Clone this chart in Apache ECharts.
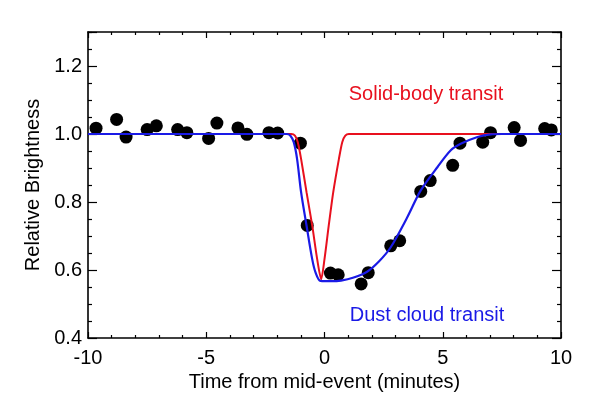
<!DOCTYPE html>
<html>
<head>
<meta charset="utf-8">
<script src="https://cdn.jsdelivr.net/npm/echarts@6/dist/echarts.min.js"></script>
<style>
  html, body { margin: 0; padding: 0; background: #fff; }
  #chart { width: 590px; height: 398px; }
</style>
</head>
<body>
<div id="chart"></div>
<script>
// observed photometry (minutes from mid-event, relative brightness)
const obsTime = [-9.66, -8.79, -8.39, -7.50, -7.11, -6.21, -5.82, -4.90, -4.55, -3.66,
  -3.28, -2.35, -1.98, -1.02, -0.73, 0.25, 0.58, 1.55, 1.85, 2.80,
  3.18, 4.07, 4.47, 5.42, 5.73, 6.69, 7.02, 8.02, 8.29, 9.31, 9.59];
const obsFlux = [1.017, 1.043, 0.991, 1.013, 1.024, 1.013, 1.004, 0.987, 1.032, 1.018,
  0.999, 1.004, 1.003, 0.973, 0.731, 0.591, 0.586, 0.559, 0.592, 0.671,
  0.686, 0.831, 0.863, 0.908, 0.973, 0.976, 1.004, 1.019, 0.981, 1.016, 1.012];

// solid-body model curve
const solidTime = [-10, -1.40, -1.25, -1.13, -0.99, -0.76, -0.52, -0.31, -0.14,
  0.0, 0.18, 0.37, 0.61, 0.75, 0.88, 1.03, 10];
const solidFlux = [1.0, 1.0, 0.995, 0.976, 0.927, 0.829, 0.731, 0.632, 0.573,
  0.632, 0.731, 0.829, 0.927, 0.976, 0.995, 1.0, 1.0];

// dust cloud model curve
const dustTime = [-10, -1.60, -1.44, -1.30, -1.16, -0.99, -0.76, -0.52, -0.38, -0.17,
  0.3, 0.7, 1.2, 1.8, 2.3, 2.8, 3.5, 4.07, 4.78, 5.34, 5.76, 6.47, 7.03, 7.5, 10];
const dustFlux = [1.0, 1.0, 0.995, 0.976, 0.927, 0.829, 0.731, 0.632, 0.593, 0.568,
  0.567, 0.569, 0.577, 0.595, 0.625, 0.667, 0.755, 0.834, 0.903, 0.952, 0.971, 0.991, 0.999, 1.0, 1.0];

const xTicks = [-10, -5, 0, 5, 10];
const yTicks = [0.4, 0.6, 0.8, 1.0, 1.2];

const zip = (a, b) => a.map((v, i) => [v, b[i]]);

const FONT = "'Liberation Sans', Arial, sans-serif";
const chart = echarts.init(document.getElementById('chart'), null, { renderer: 'canvas' });

const axisLine = { show: true, onZero: false, lineStyle: { color: '#000', width: 1.6 } };

function xAx(pos, labels) {
  return {
    type: 'value', position: pos, min: -10, max: 10, interval: 5,
    axisLine, splitLine: { show: false },
    axisTick: { show: true, inside: true, length: 6, lineStyle: { color: '#000', width: 1.2 } },
    minorTick: { show: true, splitNumber: 5, length: 3, lineStyle: { color: '#000', width: 1.2 } },
    axisLabel: {
      show: labels, margin: 10, color: '#000', fontSize: 20, fontFamily: FONT,
      formatter: v => xTicks.includes(v) ? String(v) : ''
    },
    name: labels ? 'Time from mid-event (minutes)' : '',
    nameLocation: 'middle', nameGap: 31,
    nameTextStyle: { color: '#000', fontSize: 20, fontFamily: FONT }
  };
}

function yAx(pos, labels) {
  return {
    type: 'value', position: pos, min: 0.4, max: 1.3, interval: 0.2,
    axisLine, splitLine: { show: false },
    axisTick: { show: true, inside: true, length: 9, lineStyle: { color: '#000', width: 1.2 } },
    minorTick: { show: true, splitNumber: 4, length: 4, lineStyle: { color: '#000', width: 1.2 } },
    axisLabel: {
      show: labels, margin: 6, color: '#000', fontSize: 20, fontFamily: FONT,
      showMaxLabel: false,
      formatter: v => yTicks.some(t => Math.abs(t - v) < 1e-6) ? v.toFixed(1) : ''
    },
    name: labels ? 'Relative Brightness' : '',
    nameLocation: 'middle', nameGap: 44, nameRotate: 90,
    nameTextStyle: { color: '#000', fontSize: 20, fontFamily: FONT }
  };
}

chart.setOption({
  animation: false,
  backgroundColor: '#fff',
  grid: { left: 88, right: 29, top: 32, bottom: 60, containLabel: false },
  xAxis: [xAx('bottom', true), xAx('top', false)],
  yAxis: [yAx('left', true), yAx('right', false)],
  series: [
    {
      name: 'observed', type: 'scatter', data: zip(obsTime, obsFlux),
      symbolSize: 13, itemStyle: { color: '#000', opacity: 1 }, z: 2
    },
    {
      name: 'Solid-body transit', type: 'line', data: zip(solidTime, solidFlux),
      smooth: 0.25, showSymbol: false, lineStyle: { color: '#e8101e', width: 2 }, z: 3
    },
    {
      name: 'Dust cloud transit', type: 'line', data: zip(dustTime, dustFlux),
      smooth: 0.3, showSymbol: false, lineStyle: { color: '#1a1ae6', width: 2.2 }, z: 4
    }
  ],
  graphic: [
    {
      type: 'text', x: 426, y: 94,
      style: { text: 'Solid-body transit', fill: '#e8101e', font: `20px ${FONT}`,
               textAlign: 'center', textVerticalAlign: 'middle' }
    },
    {
      type: 'text', x: 427, y: 315,
      style: { text: 'Dust cloud transit', fill: '#1a1ae6', font: `20px ${FONT}`,
               textAlign: 'center', textVerticalAlign: 'middle' }
    }
  ]
});
</script>
</body>
</html>
